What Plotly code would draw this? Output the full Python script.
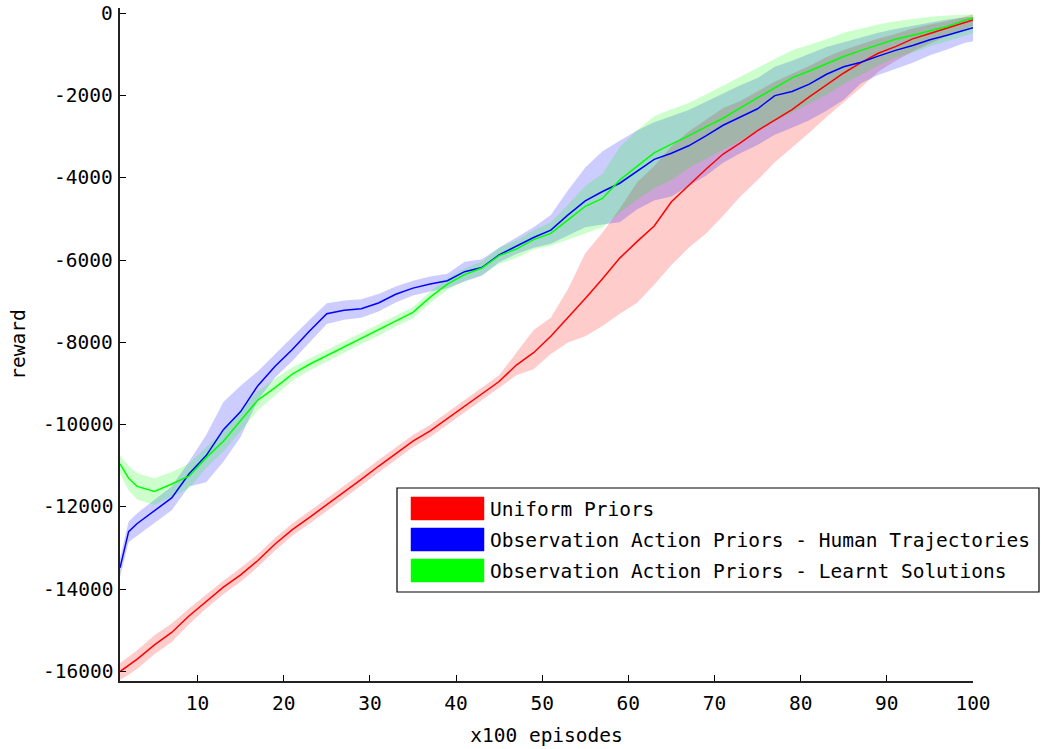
import plotly.graph_objects as go

# ---------------- data ----------------
episodes = [1, 2, 3, 5, 7, 9, 11, 13, 15, 17, 19, 21, 23, 25, 27, 29, 31, 33, 35, 37, 39,
            41, 43, 45, 47, 49, 51, 53, 55, 57, 59, 61, 63, 65, 67, 69, 71, 73, 75, 77, 79,
            81, 83, 85, 87, 89, 91, 93, 95, 97, 99, 100]

uniform_mean = [-16000, -15850, -15700, -15350, -15050, -14650, -14300, -13950, -13650, -13300,
                -12900, -12550, -12250, -11950, -11650, -11330, -11010, -10700, -10400, -10150,
                -9850, -9560, -9250, -8950, -8550, -8250, -7850, -7400, -6930, -6450,
                -5950, -5550, -5170, -4580, -4180, -3790, -3420, -3150, -2850, -2600,
                -2340, -2030, -1740, -1450, -1200, -970, -810, -620, -490, -360, -230, -160]
uniform_upper = [-15800, -15650, -15480, -15120, -14830, -14470, -14130, -13790, -13480, -13150,
                 -12750, -12400, -12100, -11800, -11500, -11180, -10860, -10550, -10250, -10000,
                 -9700, -9420, -9110, -8800, -8250, -7700, -7400, -6700, -5830, -5330,
                 -4750, -4110, -3710, -3230, -2870, -2580, -2300, -2130, -1890, -1660,
                 -1470, -1280, -1060, -890, -750, -610, -500, -370, -270, -190, -80, -30]
uniform_lower = [-16200, -16080, -15930, -15580, -15280, -14850, -14470, -14120, -13820, -13460,
                 -13060, -12700, -12400, -12100, -11800, -11480, -11160, -10850, -10550, -10300,
                 -10000, -9700, -9400, -9100, -8800, -8650, -8280, -8000, -7850, -7600,
                 -7300, -7040, -6600, -6120, -5700, -5360, -4920, -4450, -4050, -3620,
                 -3250, -2900, -2520, -2150, -1800, -1420, -1160, -930, -730, -550, -380, -300]

human_mean = [-13480, -12600, -12400, -12100, -11780, -11200, -10750, -10120, -9680, -9050,
              -8580, -8170, -7720, -7300, -7220, -7180, -7040, -6830, -6680, -6580,
              -6500, -6280, -6180, -5870, -5650, -5450, -5270, -4900, -4560, -4330,
              -4130, -3850, -3550, -3400, -3220, -2980, -2720, -2520, -2320, -2000,
              -1900, -1720, -1480, -1300, -1190, -1040, -900, -780, -640, -530, -400, -350]
human_upper = [-13250, -12350, -12150, -11820, -11500, -10900, -10250, -9450, -9050, -8700,
               -8280, -7880, -7450, -7050, -6980, -6950, -6820, -6640, -6500, -6400,
               -6330, -6040, -5980, -5700, -5450, -5200, -4900, -4300, -3750, -3350,
               -3100, -2850, -2650, -2500, -2350, -2150, -1950, -1750, -1570, -1300,
               -1150, -980, -820, -700, -580, -470, -380, -300, -220, -150, -100, -80]
human_lower = [-13700, -12850, -12700, -12400, -12080, -11500, -11400, -10900, -10300, -9400,
               -8850, -8450, -8000, -7550, -7450, -7400, -7250, -7030, -6860, -6760,
               -6680, -6520, -6380, -6050, -5850, -5700, -5600, -5400, -5200, -5130,
               -5080, -4770, -4550, -4450, -4200, -3950, -3630, -3400, -3200, -2950,
               -2780, -2600, -2370, -2100, -1700, -1500, -1350, -1200, -1020, -880, -720, -680]

learnt_mean = [-10950, -11300, -11500, -11620, -11440, -11250, -10800, -10400, -9900, -9400,
               -9100, -8770, -8530, -8320, -8110, -7900, -7700, -7470, -7270, -6900,
               -6580, -6350, -6190, -5890, -5730, -5500, -5350, -5020, -4690, -4500,
               -4050, -3720, -3390, -3180, -2980, -2760, -2550, -2300, -2050, -1800,
               -1570, -1400, -1230, -1050, -900, -760, -630, -530, -420, -320, -170, -110]
learnt_upper = [-10750, -11000, -11180, -11300, -11150, -10950, -10550, -10150, -9650, -9180,
                -8880, -8600, -8390, -8180, -7980, -7770, -7570, -7340, -7140, -6770,
                -6440, -6200, -6030, -5700, -5520, -5280, -5080, -4650, -4200, -3900,
                -3250, -2850, -2500, -2330, -2180, -1970, -1750, -1530, -1320, -1110,
                -900, -760, -630, -470, -370, -270, -190, -130, -80, -50, -30, -20]
learnt_lower = [-11200, -11600, -11820, -11950, -11750, -11550, -11050, -10650, -10150, -9650,
                -9300, -8930, -8680, -8470, -8250, -8040, -7840, -7610, -7410, -7040,
                -6720, -6500, -6360, -6090, -5950, -5740, -5650, -5500, -5350, -5200,
                -4850, -4530, -4250, -4050, -3760, -3540, -3320, -3100, -2850, -2630,
                -2420, -2200, -1980, -1720, -1500, -1270, -1080, -950, -800, -680, -550, -480]

series_names = ["Uniform Priors",
                "Observation Action Priors - Human Trajectories",
                "Observation Action Priors - Learnt Solutions"]
x_ticks = [10, 20, 30, 40, 50, 60, 70, 80, 90, 100]
y_ticks = [-16000, -14000, -12000, -10000, -8000, -6000, -4000, -2000, 0]
y_tick_labels = ["-16000", "-14000", "-12000", "-10000", "-8000", "-6000", "-4000", "-2000", "0"]

# ---------------- styling ----------------
FONT = "DejaVu Sans Mono"
FS = 19.5
line_colors = ["#ff0000", "#0000ff", "#00ff00"]
band_colors = ["rgba(255,0,0,0.2)", "rgba(0,0,255,0.2)", "rgba(0,255,0,0.2)"]

means = [uniform_mean, human_mean, learnt_mean]
uppers = [uniform_upper, human_upper, learnt_upper]
lowers = [uniform_lower, human_lower, learnt_lower]

fig = go.Figure()

for up, lo, fc in zip(uppers, lowers, band_colors):
    fig.add_trace(go.Scatter(
        x=episodes + episodes[::-1],
        y=up + lo[::-1],
        fill="toself", fillcolor=fc,
        line=dict(width=0), mode="lines",
        hoverinfo="skip", showlegend=False))

for m, c, name in zip(means, line_colors, series_names):
    fig.add_trace(go.Scatter(
        x=episodes, y=m, mode="lines", name=name,
        line=dict(color=c, width=1.5), showlegend=False))

# page geometry (the page body margin is removed below, so page == figure)
W, H = 1041, 749
PL, PR, PT, PB = 120, 973, 8, 681


def px_x(p):
    return (p - PL) / (PR - PL)


def px_y(p):
    return (PB - p) / (PB - PT)


shapes = [dict(type="rect", xref="paper", yref="paper",
               x0=px_x(397), x1=px_x(1039), y0=px_y(592), y1=px_y(488),
               line=dict(color="#000000", width=1.2), fillcolor="white", layer="above")]
annotations = []
row_top = [497, 528, 559]
for top, c, name in zip(row_top, line_colors, series_names):
    shapes.append(dict(type="rect", xref="paper", yref="paper",
                       x0=px_x(411), x1=px_x(484), y0=px_y(top + 23), y1=px_y(top),
                       line=dict(color=c, width=0.5), fillcolor=c, layer="above"))
    annotations.append(dict(xref="paper", yref="paper", x=px_x(488), y=px_y(top + 12),
                            xanchor="left", yanchor="middle", text=name, showarrow=False,
                            font=dict(family=FONT, size=FS, color="black")))

# y tick labels, placed on the y scale just left of the axis
for v, t in zip(y_ticks, y_tick_labels):
    annotations.append(dict(xref="paper", yref="y", x=px_x(115), y=v,
                            xanchor="right", yanchor="middle", text=t, showarrow=False,
                            font=dict(family=FONT, size=FS, color="black")))

fig.update_layout(
    width=W, height=H,
    margin=dict(l=PL, r=W - PR, t=PT, b=H - PB, autoexpand=False),
    paper_bgcolor="white", plot_bgcolor="white",
    font=dict(family=FONT, size=FS, color="black"),
    shapes=shapes, annotations=annotations,
    showlegend=False,
)
fig.update_xaxes(
    range=[1, 100], tickvals=x_ticks, ticks="inside", ticklen=6, tickwidth=1.2,
    tickcolor="black", showline=True, linecolor="#222222", linewidth=1.5,
    showgrid=False, zeroline=False, ticklabelstandoff=4, automargin=False,
    title=dict(text="x100 episodes", standoff=14, font=dict(family=FONT, size=FS)),
)
fig.update_yaxes(
    range=[-16230, 130], tickvals=y_ticks, showticklabels=False,
    ticks="inside", ticklen=6, tickwidth=1.2,
    tickcolor="black", showline=True, linecolor="#222222", linewidth=1.5,
    showgrid=False, zeroline=False, automargin=False,
    title=dict(text="reward", standoff=87, font=dict(family=FONT, size=FS)),
)

fig.write_html("out.html", config={"displayModeBar": False},
               post_script="document.body.style.margin='0';document.body.style.overflow='hidden';")
